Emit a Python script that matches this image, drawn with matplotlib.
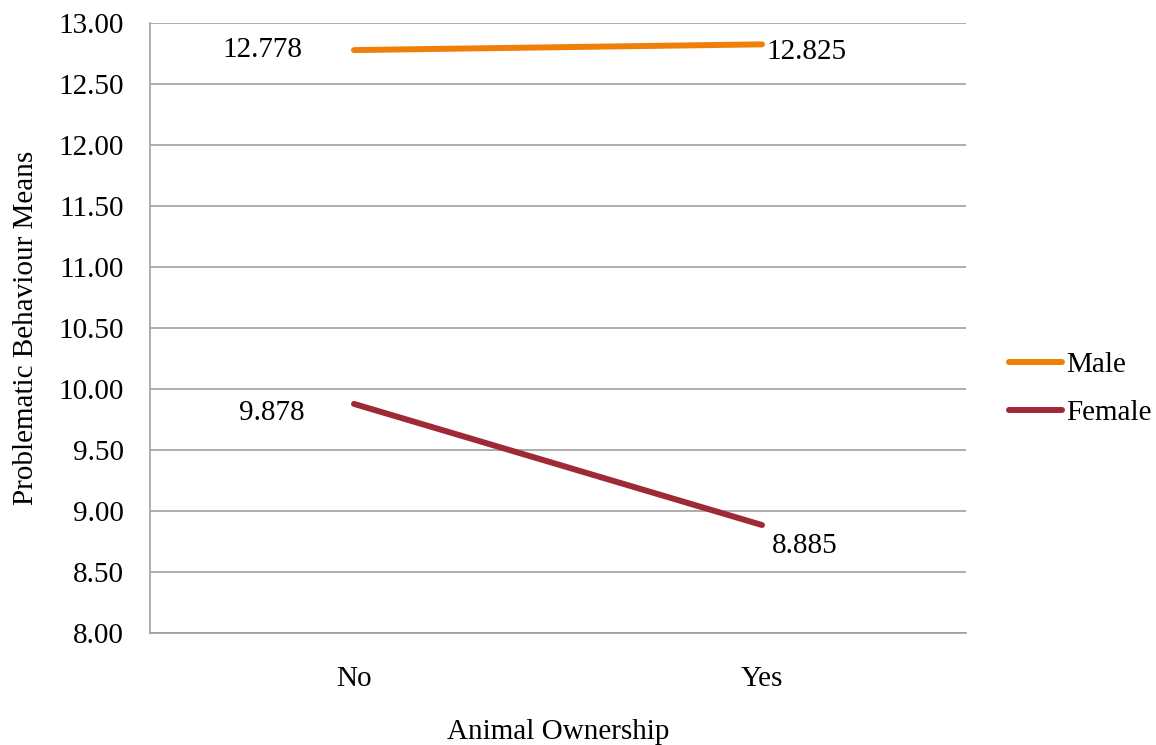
import matplotlib.pyplot as plt
import numpy as np

plt.rcParams['font.family'] = ['Liberation Serif', 'DejaVu Serif']

categories = ["No", "Yes"]
male = [12.778, 12.825]
female = [9.878, 8.885]
yticks = np.arange(8.0, 13.01, 0.5)

fs = 21
fig = plt.figure(figsize=(11.56, 7.45), dpi=100)
ax = fig.add_axes([150 / 1156, 112 / 745, 816 / 1156, 610 / 745])

x = np.arange(len(categories))
ax.plot(x, male, color='#F07F09', linewidth=4.3, solid_capstyle='round', label='Male')
ax.plot(x, female, color='#9F2936', linewidth=4.3, solid_capstyle='round', label='Female')

ax.set_xlim(-0.5, 1.5)
ax.set_ylim(8.0, 13.0)
ax.set_yticks(yticks)
ax.set_yticklabels([f"{v:.2f}" for v in yticks], fontsize=fs)
ax.set_xticks(x)
ax.set_xticklabels(categories, fontsize=fs)
ax.tick_params(axis='both', length=0)
ax.tick_params(axis='y', pad=19)
ax.tick_params(axis='x', pad=24)
ax.grid(axis='y', color='#A0A0A0', linewidth=1.2)
ax.set_axisbelow(True)
for s in ['top', 'right']:
    ax.spines[s].set_visible(False)
for s in ['left', 'bottom']:
    ax.spines[s].set_color('#A0A0A0')
    ax.spines[s].set_linewidth(1.2)

# data labels
ax.annotate(f"{male[0]:.3f}", (x[0], male[0]), xytext=(-92, 0), textcoords='offset pixels',
            ha='center', va='center', fontsize=fs)
ax.annotate(f"{male[1]:.3f}", (x[1], male[1]), xytext=(4, -8), textcoords='offset pixels',
            ha='left', va='center', fontsize=fs)
ax.annotate(f"{female[0]:.3f}", (x[0], female[0]), xytext=(-82, -9), textcoords='offset pixels',
            ha='center', va='center', fontsize=fs)
ax.annotate(f"{female[1]:.3f}", (x[1], female[1]), xytext=(10, -21), textcoords='offset pixels',
            ha='left', va='center', fontsize=fs)

ax.set_ylabel("Problematic Behaviour Means", fontsize=fs, labelpad=14)
ax.set_xlabel("Animal Ownership", fontsize=fs, labelpad=19)

ax.legend(loc='center left', bbox_to_anchor=(1.053, 0.40), frameon=False, fontsize=fs,
          handlelength=1.8, handletextpad=0.15, labelspacing=0.75, borderpad=0,
          borderaxespad=0)

fig.savefig("out.png", dpi=100)
